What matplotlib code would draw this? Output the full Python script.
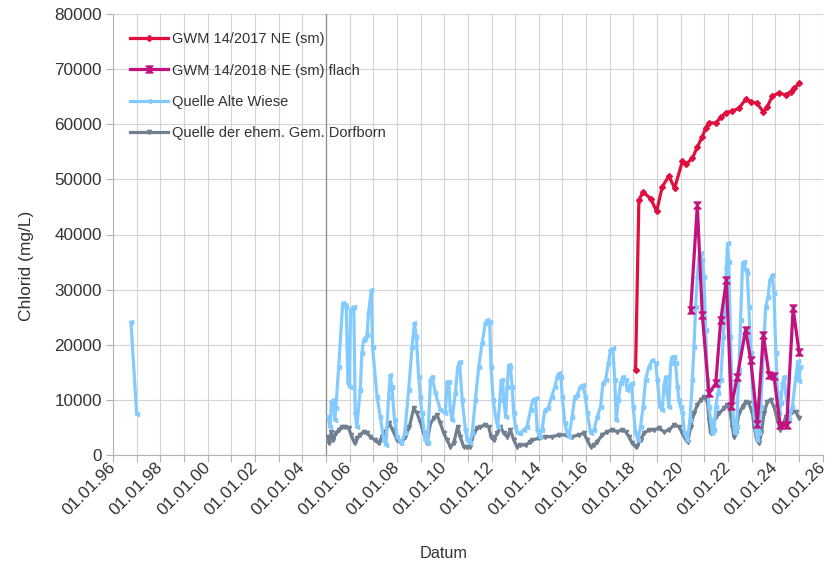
import numpy as np
import matplotlib
matplotlib.use("Agg")
import matplotlib.pyplot as plt
from matplotlib.path import Path
from matplotlib.ticker import FixedLocator, FuncFormatter

plt.rcParams['font.family'] = ['Liberation Sans', 'DejaVu Sans']

# ---------------- data (decimal years, mg/L) ----------------
red_years = [2018.09, 2018.23, 2018.41, 2018.73, 2018.98, 2019.22, 2019.50, 2019.74,
             2020.07, 2020.23, 2020.49, 2020.70, 2020.91, 2021.05, 2021.19, 2021.48,
             2021.69, 2021.90, 2022.18, 2022.46, 2022.74, 2022.96, 2023.21, 2023.49,
             2023.66, 2023.87, 2024.16, 2024.44, 2024.65, 2024.79, 2025.00]
red_vals = [15400, 46300, 47700, 46500, 44200, 48700, 50600, 48400,
            53300, 52800, 53800, 55900, 57700, 59300, 60300, 60200,
            61300, 62100, 62400, 62900, 64500, 64100, 63800, 62300,
            63200, 65100, 65700, 65300, 65900, 66500, 67400]

mag_years = [2020.42, 2020.70, 2020.91, 2021.19, 2021.48, 2021.69, 2021.93, 2022.14,
             2022.39, 2022.74, 2022.96, 2023.24, 2023.49, 2023.73, 2023.94, 2024.20,
             2024.48, 2024.75, 2025.00]
mag_vals = [26300, 45300, 25400, 11200, 13000, 24500, 31700, 8800,
            14200, 22700, 17200, 5700, 21800, 14500, 14300, 5400,
            5400, 26600, 18700]

blue_years = [1996.76, 1997.00, np.nan,
              2005.09, 2005.18, 2005.23, 2005.32, 2005.37, 2005.42, 2005.54, 2005.71,
              2005.79, 2005.86, 2005.93, 2006.00, 2006.04, 2006.10, 2006.18, 2006.24,
              2006.31, 2006.45, 2006.52, 2006.59, 2006.66, 2006.74, 2006.80, 2006.92,
              2006.97, 2007.16, 2007.30, 2007.44, 2007.54, 2007.65, 2007.72, 2007.79,
              2007.90, 2008.01, 2008.19, 2008.33, 2008.50, 2008.64, 2008.74, 2008.82,
              2008.92, 2008.99, 2009.06, 2009.20, 2009.30, 2009.42, 2009.49, 2009.63,
              2009.84, 2010.05, 2010.12, 2010.19, 2010.26, 2010.33, 2010.47, 2010.57,
              2010.65, 2010.76, 2010.90, 2010.97, 2011.08, 2011.18, 2011.32, 2011.46,
              2011.60, 2011.74, 2011.81, 2011.92, 2011.98, 2012.07, 2012.17, 2012.26,
              2012.35, 2012.41, 2012.46, 2012.52, 2012.60, 2012.66, 2012.73, 2012.80,
              2012.87, 2012.94, 2013.01, 2013.11, 2013.22, 2013.36, 2013.50, 2013.65,
              2013.75, 2013.86, 2013.93, 2014.03, 2014.14, 2014.25, 2014.39, 2014.54,
              2014.68, 2014.78, 2014.84, 2014.93, 2014.99, 2015.10, 2015.20, 2015.27,
              2015.41, 2015.52, 2015.62, 2015.76, 2015.86, 2015.97, 2016.05, 2016.19,
              2016.33, 2016.47, 2016.61, 2016.71, 2016.82, 2016.94, 2017.03, 2017.13,
              2017.21, 2017.27, 2017.36, 2017.46, 2017.55, 2017.67, 2017.74, 2017.81,
              2017.92, 2017.99, 2018.09, 2018.19, 2018.30, 2018.41, 2018.51, 2018.65,
              2018.80, 2018.94, 2019.01, 2019.12, 2019.22, 2019.29, 2019.36, 2019.43,
              2019.50, 2019.57, 2019.64, 2019.71, 2019.78, 2019.86, 2019.92, 2019.99,
              2020.07, 2020.16, 2020.28, 2020.39, 2020.49, 2020.56, 2020.63, 2020.70,
              2020.77, 2020.84, 2020.91, 2020.98, 2021.05, 2021.13, 2021.19, 2021.26,
              2021.34, 2021.41, 2021.48, 2021.57, 2021.69, 2021.80, 2021.86, 2021.93,
              2021.98, 2022.03, 2022.10, 2022.18, 2022.22, 2022.28, 2022.36, 2022.46,
              2022.53, 2022.61, 2022.67, 2022.74, 2022.81, 2022.88, 2022.96, 2023.03,
              2023.10, 2023.17, 2023.24, 2023.31, 2023.38, 2023.49, 2023.59, 2023.69,
              2023.77, 2023.87, 2023.94, 2024.02, 2024.09, 2024.16, 2024.23, 2024.30,
              2024.37, 2024.44, 2024.58, 2024.72, 2024.86, 2024.95, 2025.00, 2025.05]
blue_vals = [24100, 7400, np.nan,
             6950, 5130, 9670, 9980, 6350, 8470, 16000, 27600,
             27200, 26900, 13000, 12400, 26300, 26600, 26900, 7560,
             5130, 11800, 18450, 20860, 21170, 21770, 25700, 29930,
             19650, 10580, 6950, 2720, 1810, 10580, 14510, 12400,
             6350, 3320, 2120, 3940, 11800, 19650, 23890, 21470,
             14210, 10580, 7560, 2720, 2120, 13600, 14210, 11190,
             8160, 7560, 13300, 13300, 8160, 6350, 11190, 16000,
             16930, 9980, 4535, 2720, 2120, 3940, 9980, 16000,
             20260, 23890, 24490, 24180, 16000, 9980, 6950, 5130,
             9980, 13600, 13600, 9980, 6950, 12400, 16330, 16000,
             12400, 7560, 5130, 3940, 3940, 4535, 5130, 8160,
             9980, 10280, 4535, 3320, 4535, 8160, 8470, 10580,
             12400, 14210, 14810, 14210, 10580, 5740, 3940, 3320,
             6950, 10580, 10880, 12400, 12700, 10580, 7560, 3940,
             4535, 6950, 8770, 13000, 13600, 16630, 19050, 19350,
             13600, 6350, 9980, 13000, 14210, 13600, 11800, 12400,
             13000, 8770, 3940, 2720, 5130, 8770, 13600, 16000,
             17230, 16630, 13600, 8770, 8160, 12400, 14210, 11190,
             8770, 16630, 17840, 17840, 16630, 12400, 9980, 8770,
             7560, 3940, 2720, 6350, 13600, 19650, 26900, 32340,
             35970, 36580, 35370, 32340, 22680, 13600, 8770, 6350,
             3940, 4535, 8770, 11190, 13600, 21470, 27000, 34000,
             38400, 35000, 21470, 9980, 6350, 3940, 5130, 15420,
             24490, 34780, 35070, 33560, 32960, 26900, 18450, 12400,
             7560, 4535, 2720, 3940, 8770, 18450, 26900, 28720,
             31750, 32650, 29330, 18450, 11190, 7560, 9380, 13000,
             14210, 11190, 6350, 8770, 14000, 17000, 13500, 16000]

gray_years = [2005.09, 2005.14, 2005.23, 2005.32, 2005.42, 2005.54, 2005.68, 2005.82,
              2005.96, 2006.07, 2006.21, 2006.31, 2006.45, 2006.59, 2006.74, 2006.88,
              2007.06, 2007.23, 2007.37, 2007.51, 2007.68, 2007.82, 2008.01, 2008.19,
              2008.36, 2008.53, 2008.71, 2008.85, 2008.99, 2009.13, 2009.27, 2009.42,
              2009.56, 2009.70, 2009.84, 2009.98, 2010.12, 2010.26, 2010.40, 2010.57,
              2010.68, 2010.82, 2010.97, 2011.11, 2011.25, 2011.39, 2011.53, 2011.74,
              2011.88, 2011.98, 2012.09, 2012.24, 2012.38, 2012.52, 2012.66, 2012.80,
              2012.94, 2013.08, 2013.22, 2013.44, 2013.64, 2013.72, 2014.00, 2014.28,
              2014.57, 2014.85, 2015.13, 2015.41, 2015.69, 2015.90, 2016.05, 2016.19,
              2016.33, 2016.47, 2016.68, 2016.89, 2017.10, 2017.32, 2017.53, 2017.67,
              2017.81, 2017.95, 2018.09, 2018.16, 2018.30, 2018.44, 2018.65, 2018.87,
              2019.08, 2019.29, 2019.50, 2019.71, 2019.92, 2020.07, 2020.21, 2020.30,
              2020.42, 2020.56, 2020.70, 2020.84, 2020.98, 2021.13, 2021.19, 2021.26,
              2021.34, 2021.48, 2021.62, 2021.83, 2021.97, 2022.08, 2022.18, 2022.25,
              2022.32, 2022.46, 2022.61, 2022.74, 2022.88, 2023.03, 2023.10, 2023.21,
              2023.31, 2023.41, 2023.52, 2023.66, 2023.80, 2023.94, 2024.09, 2024.20,
              2024.30, 2024.44, 2024.58, 2024.72, 2024.86, 2025.00]
gray_vals = [3320, 2120, 4230, 2720, 3940, 4535, 5130, 5130,
             4840, 3630, 2120, 3030, 3630, 4230, 3940, 3320,
             2720, 2120, 3320, 4230, 5740, 4535, 2720, 2120,
             3320, 5130, 8470, 7560, 6000, 3940, 2120, 5740,
             6650, 7260, 5740, 3940, 2720, 1510, 2120, 5130,
             3320, 1510, 1510, 1510, 3940, 4840, 5130, 5440,
             5130, 3320, 2720, 3940, 5130, 3940, 3320, 4535,
             2720, 1510, 1810, 1800, 2400, 2720, 3030, 3320,
             3320, 3630, 3630, 3320, 3630, 3940, 2720, 1510,
             1810, 2420, 3630, 4230, 4535, 4230, 4535, 4230,
             3320, 2120, 1510, 1700, 2720, 3940, 4535, 4535,
             4840, 4230, 4535, 5440, 5130, 3940, 2720, 2420,
             5130, 7560, 9070, 9980, 10580, 9670, 6350, 3940,
             5130, 6950, 7560, 8460, 9070, 8160, 5130, 3320,
             3940, 7560, 8770, 9670, 9380, 7560, 5130, 2720,
             2120, 3940, 7560, 9670, 9980, 8770, 6350, 4535,
             5130, 6950, 7560, 7860, 7860, 6650]

series_labels = ["GWM 14/2017 NE (sm)", "GWM 14/2018 NE (sm) flach",
                 "Quelle Alte Wiese", "Quelle der ehem. Gem. Dorfborn"]
x_major_years = list(range(1996, 2027, 2))
x_minor_years = list(range(1996, 2027, 1))
y_ticks = list(range(0, 80001, 10000))

# ---------------- styling ----------------
c_red = "#e0103e"
c_mag = "#c2127e"
c_blue = "#83caff"
c_gray = "#708090"
txt_c = "#333333"

hourglass = Path([(-1, 1), (1, 1), (-1, -1), (1, -1), (-1, 1)],
                 [Path.MOVETO, Path.LINETO, Path.LINETO, Path.LINETO, Path.CLOSEPOLY])

fig = plt.figure(figsize=(8.27, 5.68), dpi=100)
ax = fig.add_axes([113/827, 1-455/568, (822.7-113)/827, (455-14)/568])

grid_c = "#d4d4d4"
ax.set_axisbelow(True)

lw = 2.3
ax.plot(gray_years, gray_vals, color=c_gray, lw=lw, marker='v', ms=3, label=series_labels[3], zorder=3)
ax.plot(blue_years, blue_vals, color=c_blue, lw=lw, marker='<', ms=3, label=series_labels[2], zorder=4)
ax.plot(red_years, red_vals, color=c_red, lw=lw, marker='D', ms=3, label=series_labels[0], zorder=5)
ax.plot(mag_years, mag_vals, color=c_mag, lw=lw, marker=hourglass, ms=5, label=series_labels[1], zorder=6)

ax.set_xlim(1996, 2026)
ax.set_ylim(0, 80000)

ax.xaxis.set_major_locator(FixedLocator(x_major_years))
ax.xaxis.set_minor_locator(FixedLocator(x_minor_years))
ax.xaxis.set_major_formatter(FuncFormatter(lambda v, p: "01.01.%02d" % (int(round(v)) % 100)))
ax.set_yticks(y_ticks)
ax.set_yticklabels([str(v) for v in y_ticks])

ax.grid(True, which='both', axis='x', color=grid_c, lw=0.8)
ax.grid(True, which='major', axis='y', color=grid_c, lw=0.8)
ax.axvline(2005, color="#8c8c8c", lw=0.9, zorder=1)

for s in ['top', 'right']:
    ax.spines[s].set_visible(False)
for s in ['left', 'bottom']:
    ax.spines[s].set_color("#b3b3b3")
    ax.spines[s].set_linewidth(0.8)

ax.tick_params(axis='both', which='both', direction='out', color="#b3b3b3", width=0.8)
ax.tick_params(axis='x', which='major', length=5, labelsize=12.5, labelcolor=txt_c, pad=2)
ax.tick_params(axis='x', which='minor', length=5)
ax.tick_params(axis='y', length=5, labelsize=12.3, labelcolor=txt_c, pad=3)
for lab in ax.get_xticklabels():
    lab.set_rotation(45)
    lab.set_ha('right')
    lab.set_va('center')
    lab.set_rotation_mode('anchor')

ax.set_xlabel("Datum", fontsize=11.7, color=txt_c)
ax.xaxis.set_label_coords((444-113)/709.7, (455-546)/441)
ax.set_ylabel("Chlorid (mg/L)", fontsize=12.5, color=txt_c)
ax.yaxis.label.set_va('center')
ax.yaxis.set_label_coords((27-113)/709.7, (455-266)/441)

handles, labels = ax.get_legend_handles_labels()
order = [labels.index(l) for l in series_labels]
leg = ax.legend([handles[i] for i in order], [labels[i] for i in order],
                loc='upper left', bbox_to_anchor=(17/709.7, 1-18/441),
                frameon=False, fontsize=10.5, handlelength=2.6, handletextpad=0.3,
                labelspacing=1.2, borderpad=0, borderaxespad=0, numpoints=1)
for t in leg.get_texts():
    t.set_color(txt_c)

fig.savefig("out.png", dpi=100)
